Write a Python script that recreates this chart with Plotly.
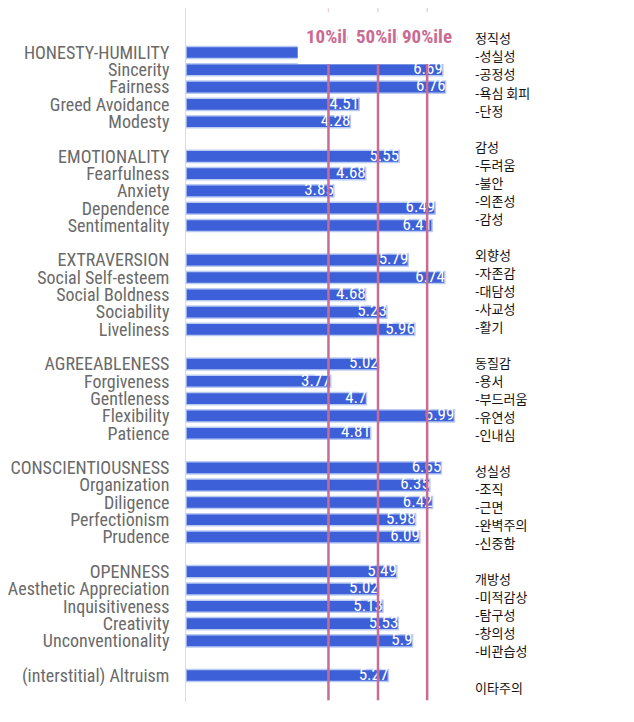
import plotly.graph_objects as go

# ---------------- data ----------------
groups = ["HONESTY-HUMILITY", "EMOTIONALITY", "EXTRAVERSION",
          "AGREEABLENESS", "CONSCIENTIOUSNESS", "OPENNESS"]
group_scores = [5.56, 5.55, 5.79, 5.02, 6.65, 5.49]

facets = [
    ["Sincerity", "Fairness", "Greed Avoidance", "Modesty"],
    ["Fearfulness", "Anxiety", "Dependence", "Sentimentality"],
    ["Social Self-esteem", "Social Boldness", "Sociability", "Liveliness"],
    ["Forgiveness", "Gentleness", "Flexibility", "Patience"],
    ["Organization", "Diligence", "Perfectionism", "Prudence"],
    ["Aesthetic Appreciation", "Inquisitiveness", "Creativity", "Unconventionality"],
]
facet_scores = [
    [6.69, 6.76, 4.51, 4.28],
    [4.68, 3.85, 6.49, 6.41],
    [6.74, 4.68, 5.23, 5.96],
    [3.77, 4.7, 6.99, 4.81],
    [6.35, 6.42, 5.98, 6.09],
    [5.02, 5.13, 5.53, 5.9],
]
altruism_label = "(interstitial) Altruism"
altruism_score = 5.27

korean_labels = [
    "정직성", "-성실성", "-공정성", "-욕심 회피", "-단정",
    "감성", "-두려움", "-불안", "-의존성", "-감성",
    "외향성", "-자존감", "-대담성", "-사교성", "-활기",
    "동질감", "-용서", "-부드러움", "-유연성", "-인내심",
    "성실성", "-조직", "-근면", "-완벽주의", "-신중함",
    "개방성", "-미적감상", "-탐구성", "-창의성", "-비관습성",
    "이타주의",
]

percentile_names = ["10%ile", "50%ile", "90%ile"]
percentile_values = [3.71, 5.0, 6.28]

# ---------------- assemble rows ----------------
labels, values, rows = [], [], []
for gi, (g, gs) in enumerate(zip(groups, group_scores)):
    base = gi * 6
    labels.append(g); values.append(gs); rows.append(base)
    for fi, (f, fs) in enumerate(zip(facets[gi], facet_scores[gi])):
        labels.append(f); values.append(fs); rows.append(base + fi + 1)
labels.append(altruism_label); values.append(altruism_score); rows.append(36)

BLUE = "#3d60d8"
PINK = "#c96b93"
NARROW = "Roboto Condensed, Archivo Narrow, Asap Condensed, sans-serif"

# page offset of 8px (default body margin) -> figure coords = reference px - 8
OFF = 8
W, H = 634 - OFF, 722 - OFF
PLOT_L, PLOT_R = 186 - OFF, 465 - OFF
PLOT_T, PLOT_B = 8 - OFF, 702 - OFF

fig = go.Figure()
fig.add_trace(go.Bar(
    x=values, y=rows, orientation="h", width=0.7,
    marker=dict(color=BLUE, line=dict(color="#b9cbf3", width=1.5)),
    hoverinfo="skip", showlegend=False,
))
fig.add_trace(go.Scatter(
    x=values, y=rows, mode="text", text=[str(v) for v in values],
    textposition="middle left",
    textfont=dict(family=NARROW, size=17, color="white"),
    hoverinfo="skip", showlegend=False, cliponaxis=False,
))

top_row = -2.57
bottom_row = 37.53
box_top, box_bottom = -2.35, 0.66

# white box covering the top of the chart (as in reference)
fig.add_shape(type="rect", xref="x", yref="y", x0=2.91, x1=7.1,
              y0=box_top, y1=box_bottom, fillcolor="white", line=dict(width=0),
              layer="above")
for pv in percentile_values:
    fig.add_shape(type="line", xref="x", yref="y", x0=pv, x1=pv,
                  y0=box_bottom, y1=bottom_row - 0.1,
                  line=dict(color=PINK, width=2.5), layer="above")
    fig.add_shape(type="line", xref="x", yref="y", x0=pv, x1=pv,
                  y0=top_row, y1=top_row + 0.25,
                  line=dict(color="#e2d6dc", width=1.5), layer="above")

for i, (pn, pv) in enumerate(zip(percentile_names, percentile_values)):
    kw = {}
    if i < 2:
        kw = dict(width=42, align="left")
    fig.add_annotation(x=pv, y=-0.95, xref="x", yref="y", text=pn,
                       showarrow=False, xanchor="center", yanchor="middle",
                       font=dict(family=NARROW, size=19, color=PINK, weight="bold"),
                       xshift=(-1 if i < 2 else 0), **kw)

# Korean labels on the right (own vertical spacing)
for r, kl in zip(rows, korean_labels):
    fig.add_annotation(x=(473 - 186) / (465 - 186), y=r,
                       xref="paper", yref="y2", text=kl, showarrow=False,
                       xanchor="left", yanchor="middle",
                       font=dict(family="Noto Sans CJK KR", size=13, color="#111111"))

fig.update_layout(
    width=W, height=H,
    margin=dict(l=PLOT_L, r=W - PLOT_R, t=PLOT_T, b=H - PLOT_B),
    paper_bgcolor="white", plot_bgcolor="white",
    xaxis=dict(range=[0, (PLOT_R - PLOT_L) / 38.4], showgrid=False, zeroline=False,
               showticklabels=False, ticks="", showline=False, fixedrange=True,
               automargin=False),
    yaxis=dict(range=[bottom_row, top_row], tickmode="array", tickvals=rows,
               ticktext=labels, showgrid=False, zeroline=False, ticks="",
               showline=True, linecolor="#dcdcdc", linewidth=1,
               ticklabelstandoff=12, automargin=False,
               tickfont=dict(family=NARROW, size=18, color="#6a6a6a")),
    yaxis2=dict(range=[36.83, -1.66], overlaying="y", visible=False),
)

fig.write_html("out.html")
